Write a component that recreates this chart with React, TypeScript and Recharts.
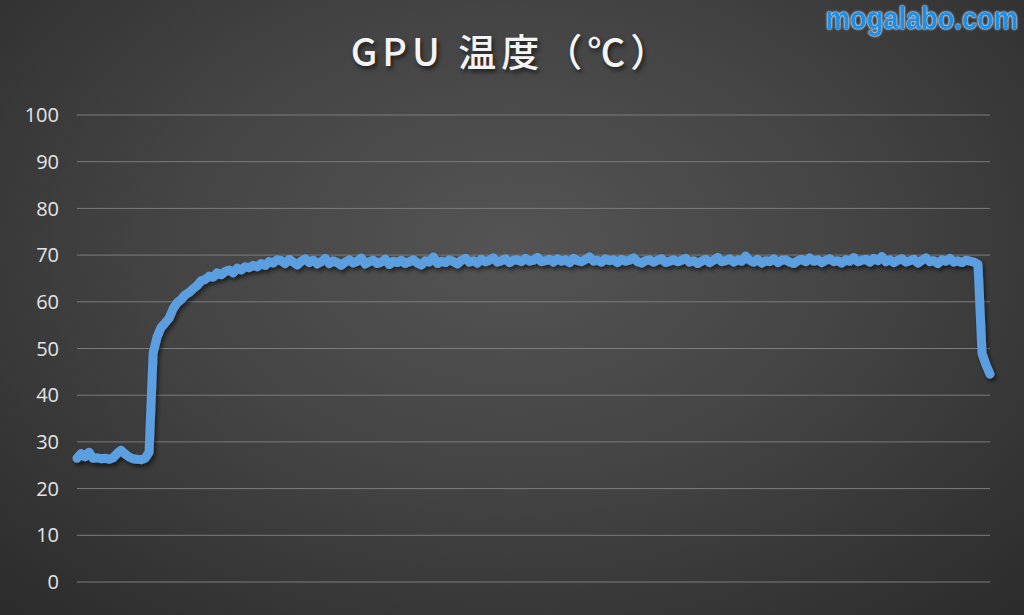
import React from 'react'
import { LineChart, Line, XAxis, YAxis, CartesianGrid } from 'recharts'

// GPU temperature readings (°C), sampled left to right across the run
const idleTemps = [
  26.5, 27.5, 26.8, 27.8, 26.5, 26.6, 26.4, 26.5, 26.3, 26.6,
  27.5, 28.2, 27.4, 26.8, 26.4, 26.3, 26.2, 26.5, 27.8,
]

const warmupTemps = [
  49.0, 52.5, 54.5, 55.5, 56.5, 58.5, 59.8, 60.5, 61.5, 62.0,
  62.8, 63.5, 64.5, 64.8, 65.5, 65.3, 66.2, 65.8, 66.5, 66.8,
  66.2, 67.2, 66.8, 67.5, 67.3, 67.8, 67.5, 68.2, 67.8, 68.6,
  68.3, 69.0,
]

const loadTemps = [
  68.8, 68.2, 69.1, 68.5, 67.9, 68.7, 69.2, 68.4, 68.9, 68.1,
  68.6, 69.3, 68.2, 68.8, 68.4, 67.8, 68.5, 69.0, 68.3, 68.7,
  69.4, 68.1, 68.6, 68.9, 68.2, 68.5, 69.1, 68.0, 68.7, 68.4,
  68.9, 68.2, 68.6, 69.0, 68.3, 67.9, 68.8, 68.5, 69.6, 68.2,
  68.7, 68.4, 69.0, 68.6, 68.1, 68.9, 69.3, 68.5, 68.8, 68.3,
  69.1, 68.6, 68.9, 69.4, 68.5, 68.8, 69.2, 68.4, 68.9, 69.0,
  68.6, 69.3, 68.7, 68.9, 69.5, 68.6, 68.8, 69.1, 68.5, 69.2,
  68.7, 69.0, 68.4, 69.3, 68.8, 68.6, 69.1, 69.6, 68.7, 68.9,
  68.5, 69.2, 68.8, 69.0, 68.4, 69.1, 68.7, 68.9, 69.4, 68.6,
  68.3, 68.8, 69.0, 68.5, 68.9, 69.2, 68.4, 68.7, 69.0, 68.6,
  68.9, 69.3, 68.5, 68.8, 68.2, 68.7, 69.1, 68.4, 68.9, 69.5,
  68.6, 68.8, 69.2, 68.5, 69.0, 68.7, 69.8, 68.9, 68.5, 69.1,
  68.3, 68.8, 68.6, 69.2, 68.4, 68.9, 69.0, 68.5, 68.2, 68.8,
  69.1, 68.6, 69.4, 68.7, 69.0, 68.4, 68.9, 69.2, 68.6, 68.8,
  68.3, 69.0, 68.7, 69.5, 68.6, 68.9, 69.1, 68.5, 69.3, 68.8,
  69.7, 68.6, 69.0, 68.4, 68.9, 69.2, 68.5, 68.8, 69.1, 68.3,
  68.9, 69.4, 68.6, 68.8, 68.2, 69.0, 68.7, 69.3, 68.5, 68.8,
  68.4, 68.9, 68.7, 68.5,
]

const cooldownTemps = [68.0, 49.0, 46.5, 44.5]

const yTicks = [0, 10, 20, 30, 40, 50, 60, 70, 80, 90, 100]

const temps = [...idleTemps, ...warmupTemps, ...loadTemps, ...cooldownTemps]
const data = temps.map((t, i) => ({ i, t }))

const App = () => {
  return (
    <div
      style={{
        position: 'absolute',
        left: 0,
        top: 0,
        width: 1024,
        height: 615,
        overflow: 'hidden',
        background:
          'radial-gradient(ellipse 75% 85% at 50% 40%, #545454 0%, #444444 45%, #333333 80%, #2a2a2a 100%)',
      }}
    >
      <div
        style={{
          position: 'absolute',
          top: 22,
          left: 0,
          width: 1024,
          textAlign: 'center',
          color: '#f4f4f4',
          fontFamily: '"Noto Sans CJK JP", sans-serif',
          fontSize: 38,
          fontWeight: 500,
          letterSpacing: 5,
          textShadow: '2px 3px 4px rgba(0,0,0,0.6)',
        }}
      >
        GPU 温度（℃）
      </div>
      <div
        style={{
          position: 'absolute',
          top: -1,
          right: 6,
          color: '#1e8fe8',
          fontFamily: '"Liberation Sans", sans-serif',
          fontWeight: 'bold',
          fontSize: 32,
          lineHeight: '38px',
          transform: 'scaleX(0.85)',
          transformOrigin: 'right top',
          whiteSpace: 'nowrap',
          textShadow: '0 0 2px #fff, 0 0 3px #cfe8ff',
        }}
      >
        mogalabo.com
      </div>
      <LineChart
        width={1024}
        height={615}
        data={data}
        margin={{ top: 115, right: 34, bottom: 33, left: 0 }}
        style={{ position: 'absolute', left: 0, top: 0 }}
      >
        <defs>
          <filter id="lineShadow" x="-5%" y="-20%" width="110%" height="140%">
            <feDropShadow dx="2" dy="3" stdDeviation="2" floodColor="#000" floodOpacity="0.55" />
          </filter>
        </defs>
        <CartesianGrid vertical={false} stroke="#7c7c7c" strokeWidth={1} />
        <XAxis dataKey="i" type="number" domain={[0, temps.length - 1]} hide />
        <YAxis
          domain={[0, 100]}
          ticks={yTicks}
          width={77}
          axisLine={false}
          tickLine={false}
          tickMargin={12}
          tick={{ fill: '#e4e4e4', fontSize: 20, fontFamily: '"Open Sans", sans-serif' }}
        />
        <Line
          dataKey="t"
          type="linear"
          stroke="#5b9fe0"
          strokeWidth={9}
          strokeLinejoin="round"
          strokeLinecap="round"
          dot={false}
          isAnimationActive={false}
          filter="url(#lineShadow)"
        />
      </LineChart>
    </div>
  )
}

export default App
